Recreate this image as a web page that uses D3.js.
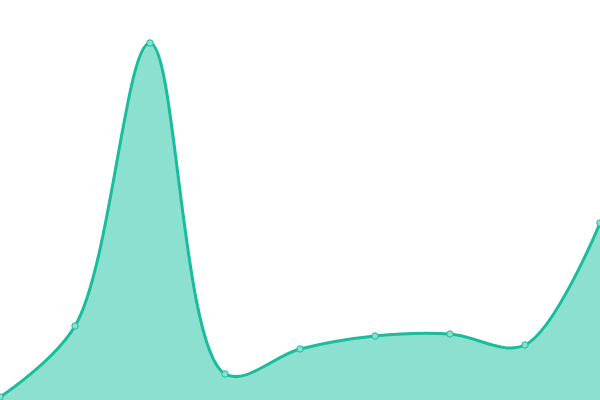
<!DOCTYPE html>
<html>
<head>
<meta charset="utf-8">
<script src="https://cdn.jsdelivr.net/npm/d3@7"></script>
<style>
  html, body { margin: 0; padding: 0; background: #fff; }
  svg { display: block; }
</style>
</head>
<body>
<svg id="chart" width="600" height="400"></svg>
<script>
'use strict';

// one value per slot
var categories = [0, 1, 2, 3, 4, 5, 6, 7, 8];
var values     = [3, 74, 357, 26, 51, 64, 66, 55, 177];

var width  = 600,
    height = 400;

var svg = d3.select("#chart");

var x = d3.scaleLinear()
    .domain(d3.extent(categories))
    .range([0, width]);

var y = d3.scaleLinear()
    .domain([0, 400])
    .range([height, 0]);

var data = categories.map(function(c, i){ return {c: c, v: values[i]}; });

var curve = d3.curveCatmullRom.alpha(0.5);

var area = d3.area()
    .x(function(d){ return x(d.c); })
    .y0(y(0))
    .y1(function(d){ return y(d.v); })
    .curve(curve);

var line = d3.line()
    .x(function(d){ return x(d.c); })
    .y(function(d){ return y(d.v); })
    .curve(curve);

svg.append("path")
    .datum(data)
    .attr("d", area)
    .attr("fill", "#8be0cf");

svg.append("path")
    .datum(data)
    .attr("d", line)
    .attr("fill", "none")
    .attr("stroke", "#1abc9c")
    .attr("stroke-width", 3);

svg.selectAll("circle.pt")
    .data(data)
    .enter().append("circle")
        .attr("class", "pt")
        .attr("cx", function(d){ return x(d.c); })
        .attr("cy", function(d){ return y(d.v); })
        .attr("r", 3.2)
        .attr("fill", "#8be0cf")
        .attr("stroke", "#1abc9c")
        .attr("stroke-width", 1);
</script>
</body>
</html>
